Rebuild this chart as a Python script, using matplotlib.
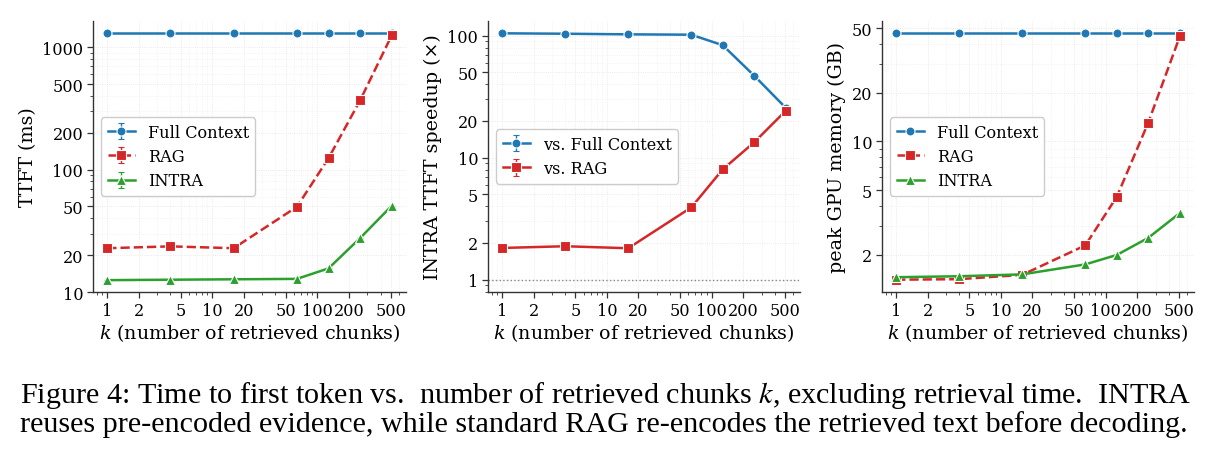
import matplotlib
matplotlib.use("Agg")
import matplotlib.pyplot as plt
from matplotlib.ticker import FixedLocator, FixedFormatter, LogLocator, NullFormatter

# data
k = [1, 4, 16, 64, 128, 256, 512]

ttft_full = [1300, 1300, 1300, 1300, 1300, 1300, 1300]
ttft_rag = [22.8, 23.6, 22.8, 49.7, 124, 369, 1254]
ttft_intra = [12.5, 12.6, 12.7, 12.8, 15.6, 27.6, 50.7]

speed_full = [104.6, 103.8, 102.6, 101.9, 83.5, 46.9, 25.6]
speed_rag = [1.82, 1.88, 1.81, 3.91, 8.03, 13.4, 24.3]

mem_full = [46.6, 46.6, 46.6, 46.6, 46.6, 46.6, 46.6]
mem_rag = [1.40, 1.41, 1.50, 2.28, 4.55, 13.1, 44.6]
mem_intra = [1.45, 1.47, 1.51, 1.74, 1.99, 2.54, 3.61]

# error bars are too small to see in the plot, only the legend shows them
err = [0, 0, 0, 0, 0, 0, 0]

xticks = [1, 2, 5, 10, 20, 50, 100, 200, 500]
caption = ("Figure 4: Time to first token vs.  number of retrieved chunks $k$, excluding retrieval time.  INTRA\n"
           "reuses pre-encoded evidence, while standard RAG re-encodes the retrieved text before decoding.")

BLUE, RED, GREEN = "#1f77b4", "#d62728", "#2ca02c"

plt.rcParams["font.family"] = "DejaVu Serif"
plt.rcParams["mathtext.fontset"] = "dejavuserif"

fig = plt.figure(figsize=(12.2, 4.56), dpi=100)
axes = [fig.add_axes([93 / 1220, 1 - 293 / 456, 313 / 1220, 271 / 456]),
        fig.add_axes([488 / 1220, 1 - 293 / 456, 312 / 1220, 271 / 456]),
        fig.add_axes([882 / 1220, 1 - 293 / 456, 312 / 1220, 271 / 456])]

mk = dict(markeredgecolor="white", markeredgewidth=0.8, linewidth=1.8, capsize=2, elinewidth=1)
leg = dict(loc="center left", fontsize=11.6, handlelength=1.7, labelspacing=0.45,
           framealpha=1, edgecolor="#cccccc")


def style(ax, yticks):
    ax.set_xscale("log")
    ax.set_yscale("log")
    ax.xaxis.set_major_locator(FixedLocator(xticks))
    ax.xaxis.set_major_formatter(FixedFormatter([str(t) for t in xticks]))
    ax.xaxis.set_minor_locator(LogLocator(base=10, subs=range(1, 10)))
    ax.xaxis.set_minor_formatter(NullFormatter())
    ax.yaxis.set_major_locator(FixedLocator(yticks))
    ax.yaxis.set_major_formatter(FixedFormatter([str(t) for t in yticks]))
    ax.yaxis.set_minor_locator(LogLocator(base=10, subs=range(1, 10)))
    ax.yaxis.set_minor_formatter(NullFormatter())
    ax.grid(True, which="major", color="#e3e3e3", linewidth=0.6, linestyle=":")
    ax.grid(True, which="minor", color="#ececec", linewidth=0.5, linestyle=":")
    for s in ["top", "right"]:
        ax.spines[s].set_visible(False)
    for s in ["left", "bottom"]:
        ax.spines[s].set_color("#333333")
        ax.spines[s].set_linewidth(1.0)
    ax.tick_params(which="major", labelsize=11.6, length=4, width=0.9, color="#333333", pad=3)
    ax.tick_params(which="minor", length=2, width=0.6, color="#333333")
    ax.set_xlabel("$k$ (number of retrieved chunks)", fontsize=13.7, labelpad=2)
    ax.set_axisbelow(True)


# panel 1: TTFT
ax = axes[0]
ax.errorbar(k, ttft_full, yerr=err, color=BLUE, marker="o", markersize=6.5, label="Full Context", **mk)
ax.errorbar(k, ttft_rag, yerr=err, color=RED, marker="s", markersize=6.5, linestyle="--", label="RAG", **mk)
ax.errorbar(k, ttft_intra, yerr=err, color=GREEN, marker="^", markersize=6.5, label="INTRA", **mk)
style(ax, [10, 20, 50, 100, 200, 500, 1000])
ax.set_ylim(bottom=10)
ax.set_ylabel("TTFT (ms)", fontsize=13.7)
ax.legend(**leg)

# panel 2: speedup
ax = axes[1]
ax.errorbar(k, speed_full, yerr=err, color=BLUE, marker="o", markersize=6.5, label="vs. Full Context", **mk)
ax.errorbar(k, speed_rag, yerr=err, color=RED, marker="s", markersize=6.5, label="vs. RAG", **mk)
ax.axhline(1, color="#888888", linestyle=":", linewidth=1)
style(ax, [1, 2, 5, 10, 20, 50, 100])
ax.set_ylabel("INTRA TTFT speedup (\u00d7)", fontsize=13.7)
ax.legend(**leg)

# panel 3: memory
ax = axes[2]
ax.plot(k, mem_full, color=BLUE, marker="o", markersize=6.5, markeredgecolor="white", markeredgewidth=0.8,
        linewidth=1.8, label="Full Context")
ax.plot(k, mem_rag, color=RED, marker="s", markersize=6.5, markeredgecolor="white", markeredgewidth=0.8,
        linewidth=1.8, linestyle="--", label="RAG")
ax.plot(k, mem_intra, color=GREEN, marker="^", markersize=6.5, markeredgecolor="white", markeredgewidth=0.8,
        linewidth=1.8, label="INTRA")
style(ax, [2, 5, 10, 20, 50])
ax.set_ylabel("peak GPU memory (GB)", fontsize=13.7)
ax.legend(**leg)

fig.text(20 / 1220, 1 - 409 / 456, caption, ha="left", va="center", multialignment="left",
         fontsize=21.7, family="Liberation Serif", math_fontfamily="stix", linespacing=1.0)

fig.savefig("out.png", dpi=100)
